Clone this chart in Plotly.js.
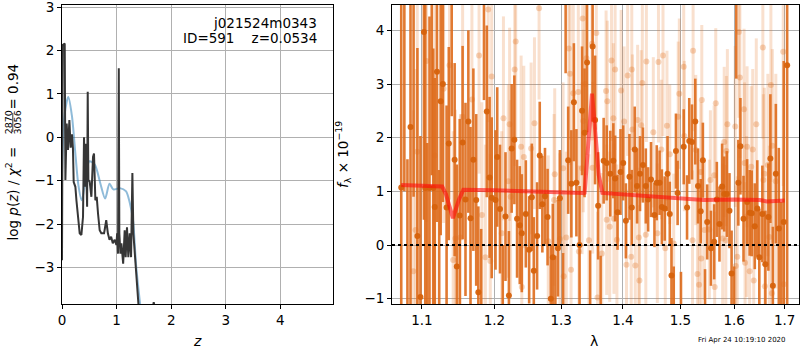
<!DOCTYPE html>
<html>
<head>
<meta charset="utf-8">
<script src="https://cdn.plot.ly/plotly-3.0.1.min.js"></script>
<style>html,body{margin:0;padding:0;background:#fff;}#chart{width:800px;height:350px;}</style>
</head>
<body>
<div id="chart"></div>
<script>
// ---- Left panel: log p(z) ----
const zGrid = [0.0, 0.013, 0.05, 0.062, 0.086, 0.11, 0.135, 0.159, 0.183, 0.20, 0.214, 0.245, 0.264, 0.293, 0.324, 0.355, 0.385, 0.403, 0.42, 0.435, 0.447, 0.46, 0.471, 0.483, 0.507, 0.538, 0.568, 0.586, 0.611, 0.636, 0.66, 0.69, 0.72, 0.77, 0.78, 0.81, 0.84, 0.87, 0.90, 0.93, 0.965, 0.996, 1.01, 1.026, 1.04, 1.05, 1.07, 1.088, 1.12, 1.148, 1.166, 1.19, 1.215, 1.24, 1.265, 1.289, 1.307, 1.344, 1.39, 1.42, 1.50, 1.66, 1.68, 1.70, 1.80];
const logPz = [-2.83, 2.13, 2.16, -0.98, 0.32, -0.29, 0.40, -0.24, 0.07, -0.24, -1.03, -1.14, -1.45, -1.83, -2.21, -2.25, -1.83, 0.0, -1.14, -0.15, -1.2, -1.6, 1.05, -0.98, -1.02, -1.37, -0.45, -0.37, -1.45, -1.37, -1.76, -2.14, -2.21, -2.21, -2.14, -1.91, -2.21, -2.36, -2.29, -2.44, -2.36, -2.48, -2.21, -2.68, 1.59, -2.21, -2.68, -2.44, -2.91, -2.14, -2.76, -2.07, -2.76, -2.21, -2.76, -0.82, -2.21, -2.98, -3.82, -4.2, -4.6, -3.95, -3.80, -3.95, -4.6];
const zPrior = [0.0, 0.05, 0.116, 0.18, 0.25, 0.30, 0.36, 0.43, 0.50, 0.60, 0.70, 0.79, 0.87, 0.94, 1.06, 1.17, 1.24, 1.30, 1.36, 1.44];
const logPrior = [-0.83, 0.55, 0.93, 0.51, -0.45, -1.1, -1.45, -1.0, -0.55, -0.63, -1.05, -1.41, -1.07, -1.2, -1.17, -1.24, -1.5, -1.91, -2.99, -3.95];

// ---- Right panel: spectrum ----
const waveDark = [1.073,1.077,1.081,1.085,1.089,1.094,1.098,1.1026,1.1044,1.107,1.110,1.113,1.115,1.117,1.120,1.123,1.125,1.128,1.133,1.136,1.140,1.144,1.147,1.151,1.155,1.159,1.163,1.166,1.170,1.174,1.177,1.181,1.185,1.189,1.193,1.196,1.2015,1.204,1.208,1.212,1.216,1.221,1.225,1.229,1.233,1.237,1.240,1.246,1.251,1.255,1.258,1.263,1.267,1.271,1.275,1.279,1.284,1.287,1.291,1.295,1.298,1.303,1.307,1.311,1.316,1.320,1.324,1.329,1.333,1.337,1.341,1.346,1.350,1.354,1.359,1.363,1.368,1.373,1.379,1.384,1.387,1.391,1.396,1.4005,1.405,1.411,1.415,1.420,1.424,1.429,1.434,1.439,1.443,1.448,1.454,1.458,1.463,1.467,1.472,1.477,1.481,1.484,1.488,1.492,1.495,1.501,1.506,1.512,1.516,1.521,1.527,1.532,1.537,1.541,1.545,1.549,1.556,1.562,1.567,1.572,1.577,1.581,1.586,1.591,1.595,1.600,1.604,1.608,1.612,1.618,1.625,1.630,1.634,1.640,1.645,1.649,1.655,1.661,1.667,1.671,1.676,1.682,1.688,1.693,1.698,1.705];
const fluxDark = [1.07,4.8,-1.6,2.2,4.7,0.17,-0.97,3.97,1.06,-1.5,1.06,4.9,1.06,0.71,3.23,-1.4,2.68,3.00,0.70,1.89,4.6,1.59,-0.40,0.55,1.91,0.85,2.30,0.50,1.59,0.84,-0.88,-1.3,4.7,2.49,1.26,0.88,0.84,1.64,0.67,-1.3,0.53,-0.94,1.80,1.96,0.49,0.37,0.22,0.58,-0.09,0.89,-0.48,0.17,1.67,0.76,0.91,0.52,-1.00,-0.23,-1.3,-0.06,0.87,-1.25,4.6,1.58,1.14,2.66,1.16,0.00,2.50,2.09,3.4,-1.3,3.7,2.33,0.73,-1.2,1.57,1.53,1.33,1.57,1.24,0.61,1.36,1.53,0.45,1.27,0.70,1.78,1.10,1.33,1.49,1.10,0.85,1.22,0.56,1.16,1.16,0.71,0.68,1.33,0.58,-0.57,-1.2,1.75,0.97,-1.3,1.83,0.70,1.94,1.92,2.30,1.10,0.63,1.58,-1.25,0.43,-0.06,0.06,0.85,0.39,1.09,0.95,0.95,0.64,-0.53,-1.3,4.6,1.16,1.84,0.49,0.80,0.60,0.59,0.35,0.68,-0.23,0.58,-0.36,0.52,1.61,-0.76,1.33,0.31,-1.4,0.43,3.35];
const errDark = [3.5,3.8,3.2,3.6,3.8,3.5,3.0,3.5,3.5,3.4,3.2,3.6,2.6,2.4,2.8,2.8,2.5,2.2,1.9,1.8,2.2,1.8,1.9,1.8,1.8,1.8,1.7,1.7,1.7,1.6,1.6,1.6,2.0,1.6,1.5,1.5,1.3,1.3,1.2,1.3,1.2,1.2,1.2,1.2,1.1,1.1,1.1,1.0,1.0,1.0,1.0,1.0,1.0,0.9,0.9,0.9,1.0,1.0,1.1,0.9,0.9,1.1,1.4,1.0,1.0,1.1,1.0,1.1,1.2,1.2,1.3,1.2,1.4,1.2,1.0,1.0,0.8,0.7,0.8,0.7,0.8,0.7,0.8,0.7,0.7,0.8,0.7,0.8,0.7,0.7,0.7,0.7,0.6,0.7,0.6,0.7,0.6,0.7,0.6,0.7,0.6,0.7,0.8,0.7,0.6,0.8,0.7,0.6,0.8,0.7,0.8,0.7,0.6,0.7,0.8,0.7,0.7,0.7,0.7,0.7,0.8,0.7,0.8,0.7,0.8,0.9,1.5,0.8,0.9,0.8,0.8,0.8,0.8,0.8,0.9,0.9,0.9,1.0,1.0,1.2,1.1,1.3,1.5,2.2,3.0,5.0];

const waveLight = [1.0886,1.0916,1.0938,1.106,1.117,1.129,1.137,1.142,1.145,1.152,1.155,1.168,1.178,1.182,1.187,1.191,1.194,1.196,1.2105,1.213,1.220,1.222,1.2235,1.2295,1.231,1.239,1.240,1.243,1.254,1.259,1.266,1.280,1.289,1.290,1.298,1.303,1.304,1.308,1.312,1.314,1.3155,1.319,1.327,1.328,1.333,1.334,1.335,1.338,1.340,1.344,1.349,1.350,1.356,1.358,1.365,1.372,1.373,1.374,1.378,1.381,1.384,1.385,1.387,1.390,1.397,1.402,1.406,1.408,1.414,1.415,1.416,1.421,1.425,1.427,1.428,1.431,1.433,1.439,1.440,1.452,1.459,1.461,1.466,1.469,1.473,1.476,1.481,1.488,1.496,1.498,1.506,1.507,1.522,1.523,1.528,1.531,1.534,1.537,1.538,1.539,1.544,1.553,1.555,1.562,1.563,1.565,1.578,1.581,1.584,1.585,1.587,1.602,1.603,1.606,1.609,1.611,1.619,1.620,1.621,1.624,1.625,1.630,1.633,1.636,1.638,1.643,1.656,1.657,1.659,1.660,1.666,1.669,1.672,1.674,1.675,1.682,1.697,1.698];
const fluxLight = [-0.49,0.28,1.74,3.43,1.67,2.91,3.35,-0.28,0.12,0.14,2.39,2.71,3.53,0.56,-0.23,4.39,-0.30,3.14,0.22,2.36,1.19,2.25,0.90,3.27,3.79,1.83,-0.78,1.64,1.80,2.27,4.41,0.07,0.84,1.32,0.11,1.43,-0.58,0.14,3.66,3.19,-0.46,2.83,2.85,-0.12,1.43,4.22,2.31,3.00,3.48,0.09,3.75,1.44,3.95,-0.98,-0.16,2.87,0.47,2.68,0.34,3.44,2.36,0.49,3.27,0.10,2.88,2.30,-0.37,3.16,-0.22,3.27,2.15,-0.38,2.33,0.14,-0.66,2.23,3.02,0.19,3.42,2.10,0.22,3.41,1.78,3.53,-0.06,2.22,1.69,0.03,2.39,2.82,3.32,2.03,0.09,3.62,1.77,-0.54,-0.74,1.36,-0.25,2.70,0.28,0.29,1.21,1.30,-0.78,2.64,0.12,1.92,0.09,1.75,2.25,2.21,-0.39,-0.22,3.97,3.12,2.53,1.53,-0.33,0.53,1.83,-0.49,1.46,1.78,-0.66,2.25,3.68,1.21,1.33,-0.77,1.49,0.15,2.98,-0.90,1.85,1.19,3.60,-0.73];
const errLight = [3.0,3.0,3.0,3.0,2.8,2.5,2.5,2.4,2.4,2.3,2.3,2.2,2.2,2.1,2.1,2.1,2.0,2.0,1.9,1.9,1.8,1.8,1.8,1.8,1.8,1.7,1.7,1.7,1.6,1.6,1.7,1.6,1.6,1.6,1.6,1.6,1.6,1.6,1.7,1.7,1.6,1.7,1.7,1.6,1.6,1.8,1.7,1.7,1.8,1.6,1.8,1.6,1.8,1.6,1.5,1.5,1.4,1.5,1.4,1.5,1.4,1.4,1.5,1.4,1.5,1.4,1.4,1.5,1.4,1.5,1.4,1.4,1.4,1.3,1.4,1.4,1.5,1.3,1.5,1.4,1.3,1.5,1.3,1.5,1.3,1.4,1.3,1.3,1.4,1.4,1.5,1.4,1.3,1.5,1.4,1.4,1.4,1.3,1.3,1.4,1.3,1.3,1.3,1.3,1.4,1.4,1.4,1.4,1.4,1.4,1.4,1.5,1.5,1.5,1.6,1.5,1.5,1.5,1.5,1.5,1.5,1.5,1.5,1.5,1.5,1.6,1.7,1.6,1.6,1.6,1.7,1.7,1.8,1.7,1.8,2.0,2.5,2.5];

const waveModel = [1.073, 1.10, 1.127, 1.132, 1.1416, 1.150, 1.156, 1.20, 1.25, 1.30, 1.335, 1.337, 1.343, 1.349, 1.353, 1.360, 1.366, 1.40, 1.45, 1.50, 1.542, 1.60, 1.65, 1.664, 1.70];
const fluxModel = [1.12, 1.11, 1.09, 0.95, 0.50, 0.85, 1.03, 1.02, 1.00, 0.99, 0.97, 0.95, 1.9, 2.82, 2.3, 1.3, 0.97, 0.94, 0.90, 0.86, 0.84, 0.85, 0.84, 0.81, 0.83];

const xTicksL = [0, 1, 2, 3, 4];
const yTicksL = [-3, -2, -1, 0, 1, 2, 3];
const xTicksR = [1.1, 1.2, 1.3, 1.4, 1.5, 1.6, 1.7];
const xTickTextR = ['1.1', '1.2', '1.3', '1.4', '1.5', '1.6', '1.7'];
const yTicksR = [-1, 0, 1, 2, 3, 4];

const FONT = 'DejaVu Sans, sans-serif';
const W = 800, H = 350, ML = 62, MR = 1, MT = 5, MB = 46;
const PW = W - ML - MR, PH = H - MT - MB;
const px2x = p => (p - ML) / PW;
const py2y = p => (H - MB - p) / PH;

const traces = [
  {x: zPrior, y: logPrior, xaxis: 'x', yaxis: 'y', mode: 'lines',
   line: {color: 'rgba(31,119,180,0.5)', width: 2, shape: 'spline', smoothing: 0.8}, hoverinfo: 'skip'},
  {x: zGrid, y: logPz, xaxis: 'x', yaxis: 'y', mode: 'lines',
   line: {color: '#363636', width: 2}, hoverinfo: 'skip'},
  {x: waveLight, y: fluxLight, xaxis: 'x2', yaxis: 'y2', mode: 'markers',
   marker: {color: 'rgba(226,112,30,0.3)', size: 6},
   error_y: {type: 'data', array: errLight, color: 'rgba(226,112,30,0.22)', thickness: 3, width: 0}, hoverinfo: 'skip'},
  {x: waveDark, y: fluxDark, xaxis: 'x2', yaxis: 'y2', mode: 'markers',
   marker: {color: 'rgba(214,98,12,0.95)', size: 6},
   error_y: {type: 'data', array: errDark, color: 'rgba(222,108,28,0.9)', thickness: 2.6, width: 0}, hoverinfo: 'skip'},
  {x: waveModel, y: fluxModel, xaxis: 'x2', yaxis: 'y2', mode: 'lines',
   line: {color: 'rgba(255,10,10,0.6)', width: 4}, hoverinfo: 'skip'}
];

const axisCommon = {
  showline: true, mirror: true, linecolor: 'black', linewidth: 1,
  ticks: 'outside', ticklen: 4, tickcolor: 'black', tickwidth: 1,
  showgrid: true, gridcolor: '#b0b0b0', gridwidth: 1, zeroline: false,
  tickfont: {family: FONT, size: 13.5, color: 'black'}, tickmode: 'array',
  ticklabeloverflow: 'allow'
};

const ann = (text, x, y, opts) => Object.assign({
  text: text, x: x, y: y, xref: 'paper', yref: 'paper', showarrow: false,
  font: {family: FONT, size: 13.5, color: 'black'}
}, opts || {});

const layout = {
  width: W, height: H, margin: {l: ML, r: MR, t: MT, b: MB},
  paper_bgcolor: 'white', plot_bgcolor: 'white', showlegend: false,
  xaxis: Object.assign({}, axisCommon, {domain: [0, px2x(333)], range: [0, 4.963], tickvals: xTicksL, anchor: 'y'}),
  yaxis: Object.assign({}, axisCommon, {range: [-3.84, 3.05], tickvals: yTicksL, anchor: 'x'}),
  xaxis2: Object.assign({}, axisCommon, {domain: [px2x(392), 1], type: 'log', range: [0.02578, 0.2379], tickvals: xTicksR, ticktext: xTickTextR, anchor: 'y2'}),
  yaxis2: Object.assign({}, axisCommon, {range: [-1.099, 4.472], tickvals: yTicksR, anchor: 'x2'}),
  shapes: [
    {type: 'line', xref: 'x2 domain', yref: 'y2', x0: 0, x1: 1, y0: 0, y1: 0,
     line: {color: 'black', width: 2, dash: '3px,3px'}},
    {type: 'line', xref: 'paper', yref: 'paper', x0: px2x(12.8), x1: px2x(12.8), y0: py2y(113), y1: py2y(132),
     line: {color: 'black', width: 0.8}}
  ],
  annotations: [
    ann('j021524m0343', px2x(319), py2y(23), {xanchor: 'right', yanchor: 'middle'}),
    ann('ID=591\u00a0\u00a0\u00a0\u00a0z=0.0534', px2x(319), py2y(37.5), {xanchor: 'right', yanchor: 'middle'}),
    ann('<i>z</i>', px2x(197.5), py2y(341), {xanchor: 'center', yanchor: 'middle', font: {family: FONT, size: 14, color: 'black'}}),
    ann('λ', px2x(594), py2y(341), {xanchor: 'center', yanchor: 'middle', font: {family: FONT, size: 14, color: 'black'}}),
    ann('log <i>p</i>(<i>z</i>) / <i>χ</i><sup>2</sup> =', px2x(12.5), py2y(243), {xanchor: 'center', yanchor: 'bottom', textangle: -90}),
    ann('2870', px2x(8.8), py2y(122.5), {xanchor: 'center', yanchor: 'middle', textangle: -90, font: {family: FONT, size: 9.5, color: 'black'}}),
    ann('3056', px2x(17), py2y(122.5), {xanchor: 'center', yanchor: 'middle', textangle: -90, font: {family: FONT, size: 9.5, color: 'black'}}),
    ann('= 0.94', px2x(12.5), py2y(112), {xanchor: 'center', yanchor: 'bottom', textangle: -90}),
    ann('<i>f</i><sub>λ</sub> × 10<sup>−19</sup>', px2x(343), py2y(155), {xanchor: 'center', yanchor: 'middle', textangle: -90}),
    ann('Fri Apr 24 10:19:10 2020', px2x(788), py2y(339.5), {xanchor: 'right', yanchor: 'middle', font: {family: FONT, size: 7, color: 'black'}})
  ]
};

Plotly.newPlot('chart', traces, layout, {staticPlot: true, displayModeBar: false});
</script>
</body>
</html>
